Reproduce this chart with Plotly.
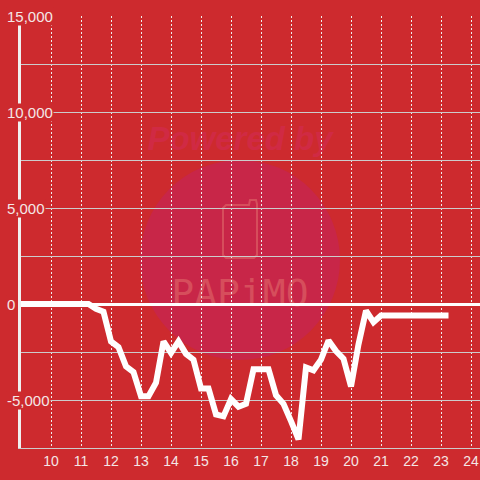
import plotly.graph_objects as go

# hora del dia y saldo acumulado
HOURS = [9.0, 9.25, 9.5, 9.75, 10.0, 10.25, 10.5, 10.75, 11.0, 11.25,
         11.5, 11.75, 12.0, 12.25, 12.5, 12.75, 13.0, 13.25, 13.5, 13.75,
         14.0, 14.25, 14.5, 14.75, 15.0, 15.25, 15.5, 15.75, 16.0, 16.25,
         16.5, 16.75, 17.0, 17.25, 17.5, 17.75, 18.0, 18.25, 18.5, 18.75,
         19.0, 19.25, 19.5, 19.75, 20.0, 20.25, 20.5, 20.75, 21.0, 21.25,
         21.5, 21.75, 22.0, 22.25, 22.5, 22.75, 23.0, 23.25]
VALUES = [0, 0, 0, 0, 0, 0, 0, 0, 0, 0,
          -250, -400, -1950, -2250, -3250, -3550, -4800, -4800, -4100, -1950,
          -2550, -1950, -2600, -2900, -4400, -4400, -5750, -5850, -4950, -5350,
          -5200, -3400, -3400, -3400, -4750, -5200, -6100, -7050, -3300, -3450,
          -2900, -1900, -2450, -2850, -4300, -2100, -350, -950, -600, -600,
          -600, -600, -600, -600, -600, -600, -600, -600]

X_TICKS = [10, 11, 12, 13, 14, 15, 16, 17, 18, 19, 20, 21, 22, 23, 24]
Y_LABELS = [15000, 10000, 5000, 0, -5000]
Y_GRID = [15000, 12500, 10000, 7500, 5000, 2500, 0, -2500, -5000, -7500]

BG = 'rgb(205,42,46)'
LABEL = '#f4e6e6'
WM = 'rgb(214,78,92)'

W, H = 480, 480
L, T, B = 21, 16, 32


def px(x, y):
    # pixel -> paper (solo para la marca de agua)
    return (x - L) / (W - L), (H - B - y) / (H - B - T)


fig = go.Figure()
fig.add_trace(go.Scatter(x=HOURS, y=VALUES, mode='lines',
                         line=dict(color='white', width=6),
                         showlegend=False, hoverinfo='skip'))

shapes = []
cx0, cy0 = px(140, 360)
cx1, cy1 = px(340, 160)
shapes.append(dict(type='circle', xref='paper', yref='paper',
                   x0=cx0, y0=cy0, x1=cx1, y1=cy1,
                   fillcolor='rgb(200,38,72)', line=dict(width=0), layer='below'))

tx0, ty0 = px(130, 152)
tx1, ty1 = px(350, 118)
shapes.append(dict(type='rect', xref='paper', yref='paper',
                   x0=tx0, y0=ty0, x1=tx1, y1=ty1,
                   line=dict(width=0), fillcolor='rgba(0,0,0,0)', layer='below',
                   label=dict(text='<b><i>Powered by</i></b>',
                              font=dict(family='Liberation Sans', size=33,
                                        color='rgb(208,42,68)'))))

px0, py0 = px(160, 310)
px1, py1 = px(320, 270)
shapes.append(dict(type='rect', xref='paper', yref='paper',
                   x0=px0, y0=py0, x1=px1, y1=py1,
                   line=dict(width=0), fillcolor='rgba(0,0,0,0)', layer='below',
                   label=dict(text='PAPiMO',
                              font=dict(family='DejaVu Sans Mono', size=38, color=WM))))

phone = [(226, 205), (249, 205), (250, 200), (256, 200), (257, 204), (257, 255),
         (254, 258), (226, 258), (223, 255), (223, 208)]
path = ''
for i, (a, b) in enumerate(phone):
    xx, yy = px(a, b)
    path += ('M' if i == 0 else 'L') + f'{xx:.4f},{yy:.4f} '
path += 'Z'
shapes.append(dict(type='path', xref='paper', yref='paper', path=path,
                   line=dict(color=WM, width=2), layer='below'))

annotations = []
for v in Y_LABELS:
    ax, _ = px(6, 0)
    annotations.append(dict(x=ax, y=v, xref='paper', yref='y',
                            text=f'{v:,}', showarrow=False,
                            xanchor='left', yanchor='middle',
                            bgcolor=BG, borderpad=0,
                            font=dict(family='Liberation Sans', size=15, color=LABEL)))

fig.update_layout(
    width=W, height=H,
    margin=dict(l=L, r=0, t=T, b=B, autoexpand=False),
    paper_bgcolor=BG,
    plot_bgcolor='rgba(0,0,0,0)',
    shapes=shapes,
    annotations=annotations,
    xaxis=dict(range=[9, 24.3], tickmode='array', tickvals=X_TICKS,
               automargin=False,
               showgrid=True, gridcolor='#eeeeee', griddash='2px,2px', gridwidth=1,
               showline=True, linecolor='#cccccc', linewidth=1,
               zeroline=False, ticks='',
               tickfont=dict(family='Liberation Sans', size=14, color=LABEL)),
    yaxis=dict(range=[-7500, 15000], tickmode='array', tickvals=Y_GRID,
               showticklabels=False, ticks='', automargin=False,
               showgrid=True, gridcolor='#cccccc', gridwidth=1,
               showline=True, linecolor='#f0f0f0', linewidth=3,
               zeroline=True, zerolinecolor='white', zerolinewidth=3),
)

# quitar el margen del body para que el grafico quede en la esquina
fig.write_html("out.html", config={'displayModeBar': False},
               post_script="document.body.style.margin='0';document.body.style.background='" + BG + "';")
